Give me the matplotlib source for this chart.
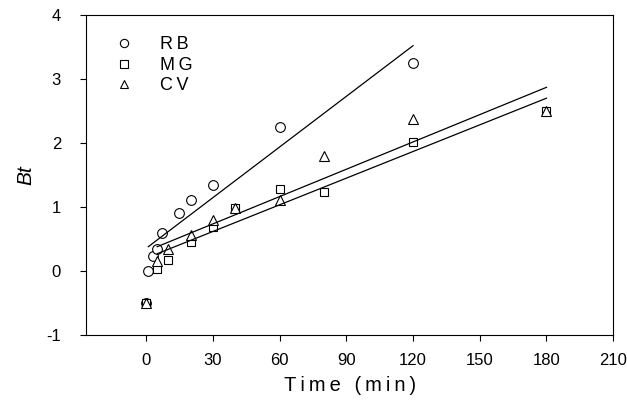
import matplotlib
matplotlib.use('Agg')
import matplotlib.pyplot as plt

plt.rcParams['font.family'] = ['Liberation Sans', 'DejaVu Sans']
plt.rcParams['axes.unicode_minus'] = False

# data
rb_t = [0, 1, 3, 5, 7, 15, 20, 30, 60, 120]
rb_bt = [-0.5, 0.0, 0.23, 0.35, 0.59, 0.90, 1.11, 1.35, 2.25, 3.25]

mg_t = [0, 5, 10, 20, 30, 40, 60, 80, 120, 180]
mg_bt = [-0.5, 0.03, 0.17, 0.45, 0.69, 0.98, 1.28, 1.24, 2.01, 2.50]

cv_t = [0, 5, 10, 20, 30, 40, 60, 80, 120, 180]
cv_bt = [-0.5, 0.15, 0.35, 0.56, 0.79, 0.98, 1.11, 1.80, 2.375, 2.50]

# fitted lines (end points)
rb_fit_t = [1, 120]
rb_fit_bt = [0.38, 3.52]
mg_fit_t = [5, 180]
mg_fit_bt = [0.27, 2.70]
cv_fit_t = [5, 180]
cv_fit_bt = [0.38, 2.87]

sp = '\u2009'  # espacamento entre letras, como no original

fig = plt.figure(figsize=(6.27, 4.05), dpi=100)
ax = fig.add_axes([0.1372, 0.1728, 0.8408, 0.7902])

mk = dict(linestyle='none', markerfacecolor='white', markeredgecolor='black',
          markeredgewidth=0.8)
ax.plot(rb_t, rb_bt, marker='o', markersize=7, label=sp.join('RB'), **mk)
ax.plot(mg_t, mg_bt, marker='s', markersize=6, label=sp.join('MG'), **mk)
ax.plot(cv_t, cv_bt, marker='^', markersize=7, label=sp.join('CV'), **mk)

ax.plot(rb_fit_t, rb_fit_bt, color='black', linewidth=0.9)
ax.plot(mg_fit_t, mg_fit_bt, color='black', linewidth=0.9)
ax.plot(cv_fit_t, cv_fit_bt, color='black', linewidth=0.9)

ax.set_xlim(-27, 210)
ax.set_ylim(-1, 4)
ax.set_xticks([0, 30, 60, 90, 120, 150, 180, 210])
ax.set_yticks([-1, 0, 1, 2, 3, 4])
ax.tick_params(direction='out', length=4, width=0.8, labelsize=12)
ax.tick_params(axis='y', pad=14)
ax.tick_params(axis='x', pad=9)
for s in ax.spines.values():
    s.set_linewidth(0.8)

ax.set_xlabel(sp.join('Time (min)'), fontsize=14.5, labelpad=6)
ax.set_ylabel('Bt', fontsize=15, style='italic', labelpad=8)

ax.legend(loc='upper left', frameon=False, fontsize=13, handletextpad=1.5,
          borderaxespad=0.6, labelspacing=0.2, handlelength=1.0,
          markerscale=0.85, bbox_to_anchor=(0.02, 0.99))

fig.savefig('out.png', dpi=100)
